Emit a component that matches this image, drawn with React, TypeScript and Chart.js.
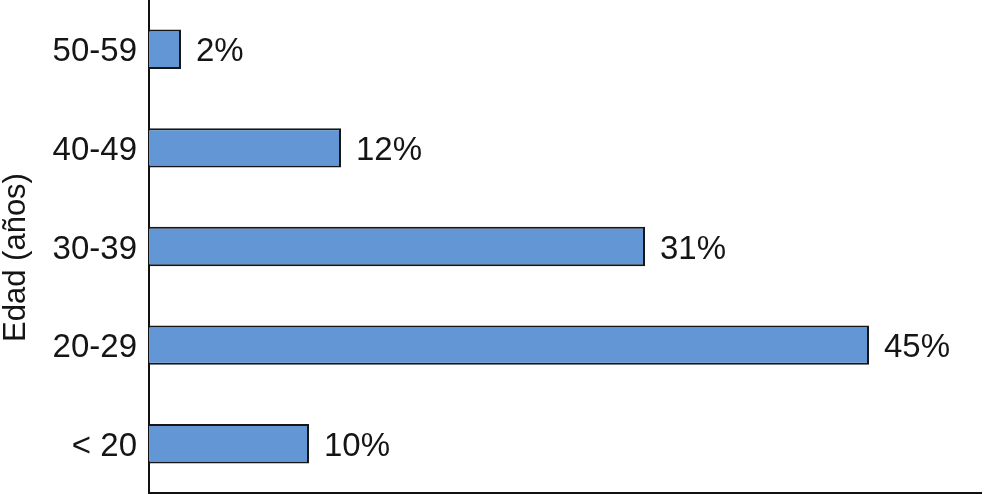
import React, { useEffect, useRef } from "react";
import { Chart, registerables } from "chart.js";

Chart.register(...registerables);

const categories: string[] = ["50-59", "40-49", "30-39", "20-29", "< 20"];
const values: number[] = [2, 12, 31, 45, 10];
const valueLabels: string[] = ["2%", "12%", "31%", "45%", "10%"];
const axisTitle = "Edad (años)";

const FONT = "'Liberation Sans', Arial, Helvetica, sans-serif";
const TEXT = "#151515";

const valueLabelPlugin = {
  id: "valueLabels",
  afterDatasetsDraw(chart: any) {
    const meta = chart.getDatasetMeta(0);
    const ctx = chart.ctx;
    ctx.save();
    ctx.font = `33px ${FONT}`;
    ctx.fillStyle = TEXT;
    ctx.textAlign = "left";
    ctx.textBaseline = "middle";
    meta.data.forEach((bar: any, i: number) => {
      ctx.fillText(valueLabels[i], bar.x + 15, bar.y + 3);
    });
    ctx.restore();
  },
};

const axisTitlePlugin = {
  id: "axisTitle",
  afterDraw(chart: any) {
    const ctx = chart.ctx;
    const area = chart.chartArea;
    ctx.save();
    ctx.font = `31px ${FONT}`;
    ctx.fillStyle = TEXT;
    ctx.textAlign = "center";
    ctx.textBaseline = "alphabetic";
    ctx.translate(25, (area.top + area.bottom) / 2 + 11);
    ctx.rotate(-Math.PI / 2);
    ctx.fillText(axisTitle, 0, 0);
    ctx.restore();
  },
};

export default function App() {
  const ref = useRef<HTMLCanvasElement | null>(null);

  useEffect(() => {
    document.body.style.margin = "0";
    const canvas = ref.current;
    if (!canvas) return;
    const chart = new Chart(canvas, {
      type: "bar",
      data: {
        labels: categories,
        datasets: [
          {
            data: values,
            backgroundColor: "#6396d4",
            borderColor: "#161616",
            borderWidth: 2,
            barPercentage: 0.4,
            categoryPercentage: 1,
          },
        ],
      },
      options: {
        indexAxis: "y",
        responsive: false,
        animation: false,
        layout: { padding: { top: 0, right: 3, bottom: 1, left: 0 } },
        plugins: {
          legend: { display: false },
          tooltip: { enabled: false },
          title: { display: false },
        },
        scales: {
          x: {
            min: 0,
            max: 52,
            grid: { display: false, drawTicks: false },
            ticks: { display: false },
            border: { display: true, color: "#111", width: 2 },
            afterFit: (scale: any) => {
              scale.height = 0;
              scale.paddingLeft = 0;
              scale.paddingRight = 0;
            },
          },
          y: {
            grid: { display: false, drawTicks: false },
            ticks: {
              color: TEXT,
              padding: 12,
              labelOffset: 3,
              font: { family: FONT, size: 33 },
            },
            border: { display: true, color: "#111", width: 2 },
            afterFit: (scale: any) => {
              scale.width = 149;
              scale.paddingTop = 0;
              scale.paddingBottom = 0;
            },
          },
        },
      },
      plugins: [valueLabelPlugin, axisTitlePlugin],
    });
    return () => chart.destroy();
  }, []);

  return (
    <div style={{ width: 984, height: 494 }}>
      <canvas ref={ref} width={984} height={494} />
    </div>
  );
}
